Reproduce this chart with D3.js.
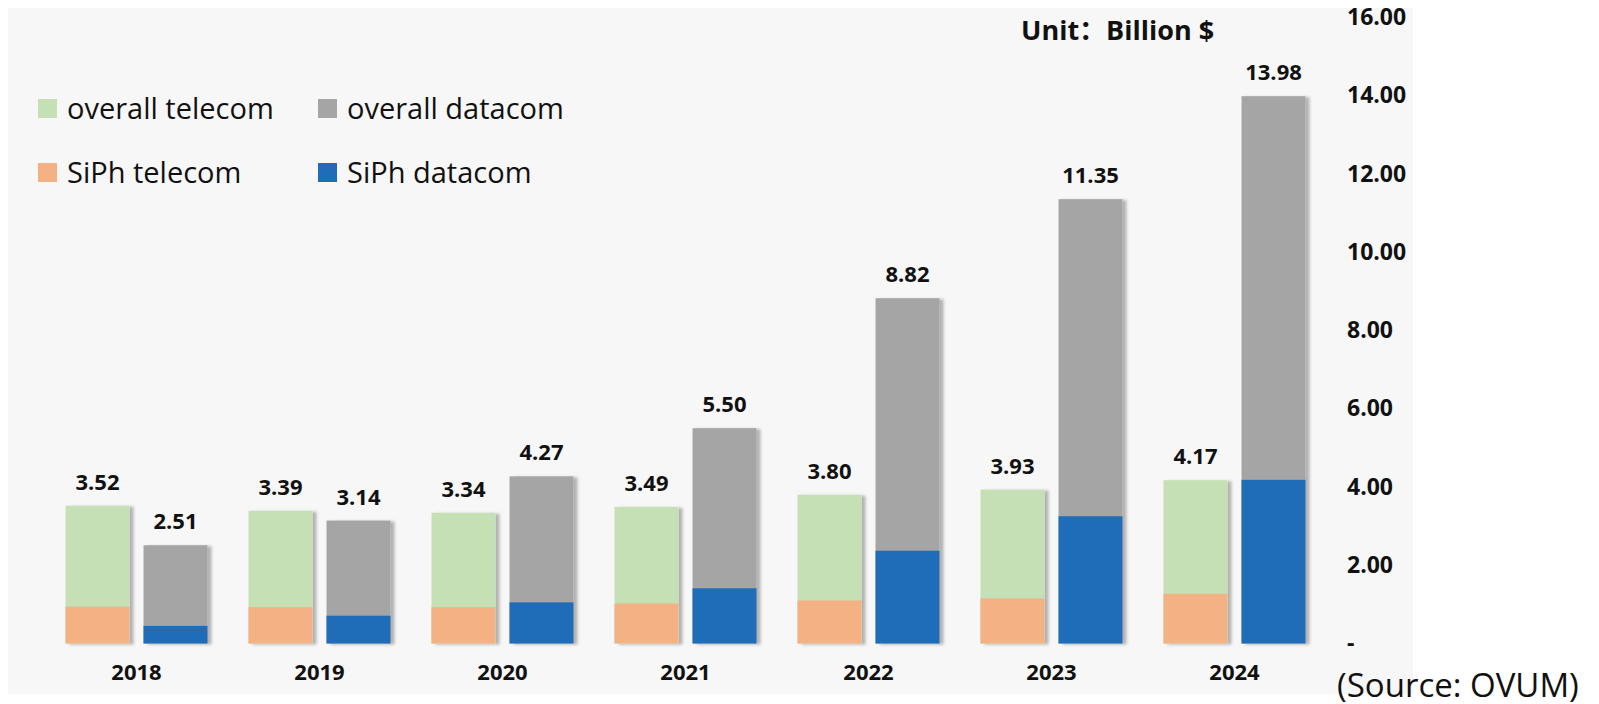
<!DOCTYPE html>
<html>
<head>
<meta charset="utf-8">
<script src="https://cdn.jsdelivr.net/npm/d3@7"></script>
<style>
  html, body { margin: 0; padding: 0; background: #ffffff; }
  svg { display: block; }
</style>
</head>
<body>
<svg id="chart" width="1599" height="704"></svg>
<script>
const years = ['2018', '2019', '2020', '2021', '2022', '2023', '2024'];
const overallTelecom = [3.52, 3.39, 3.34, 3.49, 3.80, 3.93, 4.17];
const overallDatacom = [2.51, 3.14, 4.27, 5.50, 8.82, 11.35, 13.98];
const siphTelecom = [0.94, 0.93, 0.93, 1.02, 1.10, 1.15, 1.27];
const siphDatacom = [0.45, 0.71, 1.05, 1.41, 2.37, 3.25, 4.18];
const yTicks = [0, 2, 4, 6, 8, 10, 12, 14, 16];
const legendItems = [
  { key: 'oTel', label: 'overall telecom' },
  { key: 'oDat', label: 'overall datacom' },
  { key: 'sTel', label: 'SiPh telecom' },
  { key: 'sDat', label: 'SiPh datacom' }
];
const colors = { oTel: '#c5e0b4', oDat: '#a5a5a5', sTel: '#f4b183', sDat: '#1f6db9' };

const svg = d3.select('#chart');
const FONT = "'Open Sans', 'Noto Sans', 'Noto Sans CJK SC', sans-serif";

// shadow filter
const defs = svg.append('defs');
const f = defs.append('filter').attr('id', 'shadow')
  .attr('x', '-20%').attr('y', '-5%').attr('width', '140%').attr('height', '110%');
f.append('feDropShadow').attr('dx', 4).attr('dy', 1).attr('stdDeviation', 1.6)
  .attr('flood-color', '#000').attr('flood-opacity', 0.28);

// panel background
svg.append('rect').attr('x', 8).attr('y', 8).attr('width', 1405).attr('height', 686)
  .attr('fill', '#f7f7f7');

const x = d3.scaleBand().domain(years).range([45, 1326]).paddingInner(0.224).paddingOuter(0.112);
const xSub = d3.scaleBand().domain(['telecom', 'datacom']).range([0, x.bandwidth()]).paddingInner(0.18).paddingOuter(0);
const y = d3.scaleLinear().domain([0, 16]).range([643.5, 17.1]);

const rows = years.map((yr, i) => ({
  year: yr,
  bars: [
    { sub: 'telecom', overall: overallTelecom[i], siph: siphTelecom[i], oc: colors.oTel, sc: colors.sTel },
    { sub: 'datacom', overall: overallDatacom[i], siph: siphDatacom[i], oc: colors.oDat, sc: colors.sDat }
  ]
}));

const groups = svg.append('g').selectAll('g').data(rows).join('g')
  .attr('transform', d => `translate(${x(d.year)},0)`);

const bar = groups.selectAll('g.bar').data(d => d.bars).join('g').attr('class', 'bar');

bar.append('rect')
  .attr('x', d => xSub(d.sub))
  .attr('width', xSub.bandwidth())
  .attr('y', d => y(d.overall))
  .attr('height', d => y(0) - y(d.overall))
  .attr('fill', d => d.oc)
  .attr('filter', 'url(#shadow)');

bar.append('rect')
  .attr('x', d => xSub(d.sub))
  .attr('width', xSub.bandwidth())
  .attr('y', d => y(d.siph))
  .attr('height', d => y(0) - y(d.siph))
  .attr('fill', d => d.sc);

bar.append('text')
  .attr('x', d => xSub(d.sub) + xSub.bandwidth() / 2)
  .attr('y', d => y(d.overall) - 16)
  .attr('text-anchor', 'middle')
  .attr('font-family', FONT).attr('font-weight', 'bold').attr('font-size', 22)
  .attr('fill', '#111')
  .text(d => d.overall.toFixed(2));

// x axis
const xAxis = svg.append('g').attr('transform', `translate(0,${y(0)})`)
  .call(d3.axisBottom(x).tickSize(0).tickPadding(0));
xAxis.select('.domain').remove();
xAxis.selectAll('text')
  .attr('y', 36.5).attr('dy', 0)
  .attr('font-family', FONT).attr('font-weight', 'bold').attr('font-size', 22)
  .attr('fill', '#111');

// right y axis
const yAxis = svg.append('g').attr('transform', 'translate(1347,0)')
  .call(d3.axisRight(y).tickValues(yTicks).tickSize(0).tickPadding(0)
    .tickFormat(d => d === 0 ? '-' : d.toFixed(2)));
yAxis.select('.domain').remove();
yAxis.selectAll('text')
  .attr('font-family', FONT).attr('font-weight', 'bold').attr('font-size', 23)
  .attr('fill', '#111');

// legend
const legPos = [[38, 99], [318, 99], [38, 163], [318, 163]];
const leg = svg.append('g').selectAll('g').data(legendItems).join('g')
  .attr('transform', (d, i) => `translate(${legPos[i][0]},${legPos[i][1]})`);
leg.append('rect').attr('width', 19).attr('height', 19).attr('fill', d => colors[d.key]);
leg.append('text').attr('x', 29).attr('y', 9.5).attr('dy', '0.35em')
  .attr('font-family', FONT).attr('font-size', 29).attr('fill', '#111')
  .text(d => d.label);

// unit
svg.append('text').attr('x', 1021).attr('y', 40)
  .attr('font-family', FONT).attr('font-weight', 'bold').attr('font-size', 27)
  .attr('fill', '#111').text('Unit：Billion $');

// source
svg.append('text').attr('x', 1337).attr('y', 697)
  .attr('font-family', FONT).attr('font-size', 33)
  .attr('fill', '#111').text('(Source: OVUM)');
</script>
</body>
</html>
